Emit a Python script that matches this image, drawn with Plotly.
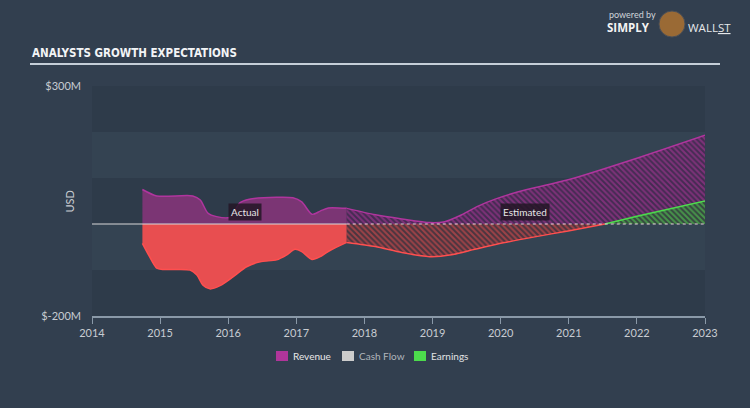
import plotly.graph_objects as go

# ---------------- data (USD millions, fractional years) ----------------
rev_act_x = [2014.74, 2014.95, 2015.48, 2015.59, 2015.70, 2015.83, 2016.03, 2016.17,
             2016.31, 2016.71, 2016.95, 2017.08, 2017.23, 2017.35, 2017.47, 2017.74]
rev_act_y = [75, 61, 61, 52, 24, 16, 15, 46, 54, 58, 57, 48, 21, 28, 35, 34]

rev_est_x = [2017.74, 2018.16, 2018.55, 2018.96, 2019.18, 2019.43, 2019.67, 2019.92,
             2020.26, 2020.99, 2022.0, 2023.0]
rev_est_y = [34, 20, 11, 3, 5, 20, 39, 54, 70, 96, 143, 193]

earn_act_x = [2014.74, 2014.83, 2014.95, 2015.05, 2015.44, 2015.54, 2015.63, 2015.73,
              2015.88, 2016.07, 2016.27, 2016.47, 2016.71, 2016.86, 2016.98, 2017.08,
              2017.23, 2017.35, 2017.50, 2017.74]
earn_act_y = [-42, -67, -96, -99, -100, -111, -133, -141, -134, -115, -93, -82,
              -78, -67, -55, -60, -77, -71, -57, -40]

earn_est_x = [2017.74, 2018.16, 2018.55, 2018.96, 2019.28, 2019.62, 2019.97, 2020.50,
              2020.99, 2021.53, 2022.0, 2023.0]
earn_est_y = [-40, -49, -62, -71, -67, -55, -43, -28, -15, 0, 17, 50]

year_ticks = list(range(2014, 2024))
y_tick_vals = [-200, 300]
y_tick_text = ["$-200M", "$300M"]
legend_names = ["Revenue", "Cash Flow", "Earnings"]
legend_colors = ["#b0359a", "#cccccc", "#4cdb4c"]
split_year = 2017.74

# ---------------- styling ----------------
PAPER = "#323f4f"
DARK_BAND = "#2e3b4a"
LIGHT_BAND = "#344352"
REV_LINE = "#b0359e"
REV_FILL = "#7b3574"
EARN_NEG_LINE = "#ff4f4f"
EARN_NEG_FILL = "#e84e50"
EARN_POS_LINE = "#4cdb4c"
TXT = "#c8ccd2"
FONT = "Lato"

L, R, T, B = 92, 45, 86, 92
W, H = 750, 408
PW, PH = W - L - R, H - T - B


def px(x):
    return (x - L) / PW


def py(y):
    return (H - B - y) / PH


fig = go.Figure()

# actual revenue
fig.add_trace(go.Scatter(x=rev_act_x, y=rev_act_y, mode="lines", fill="tozeroy",
                         fillcolor=REV_FILL, line=dict(color=REV_LINE, width=1.5, shape="spline", smoothing=0.7),
                         showlegend=False, hoverinfo="skip"))
# actual earnings
fig.add_trace(go.Scatter(x=earn_act_x, y=earn_act_y, mode="lines", fill="tozeroy",
                         fillcolor=EARN_NEG_FILL, line=dict(color=EARN_NEG_LINE, width=1.5, shape="spline", smoothing=0.7),
                         showlegend=False, hoverinfo="skip"))
# estimated revenue (hatched)
fig.add_trace(go.Scatter(x=rev_est_x, y=rev_est_y, mode="lines", fill="tozeroy",
                         fillcolor="rgba(72,40,84,0.85)",
                         fillpattern=dict(shape="\\", fgcolor="#b8389f", bgcolor="rgba(72,40,84,0.85)",
                                          size=4, solidity=0.5),
                         line=dict(color=REV_LINE, width=1.5, shape="spline", smoothing=0.7),
                         showlegend=False, hoverinfo="skip"))
# estimated earnings split by sign
neg_x = [x for x, y in zip(earn_est_x, earn_est_y) if y <= 0]
neg_y = [y for y in earn_est_y if y <= 0]
pos_x = [x for x, y in zip(earn_est_x, earn_est_y) if y >= 0]
pos_y = [y for y in earn_est_y if y >= 0]
fig.add_trace(go.Scatter(x=neg_x, y=neg_y, mode="lines", fill="tozeroy",
                         fillcolor="rgba(78,50,60,0.85)",
                         fillpattern=dict(shape="\\", fgcolor="#f05050", bgcolor="rgba(78,50,60,0.85)",
                                          size=4, solidity=0.5),
                         line=dict(color=EARN_NEG_LINE, width=1.5, shape="spline", smoothing=0.7),
                         showlegend=False, hoverinfo="skip"))
fig.add_trace(go.Scatter(x=pos_x, y=pos_y, mode="lines", fill="tozeroy",
                         fillcolor="rgba(50,75,60,0.85)",
                         fillpattern=dict(shape="\\", fgcolor="#50e050", bgcolor="rgba(50,75,60,0.85)",
                                          size=4, solidity=0.5),
                         line=dict(color=EARN_POS_LINE, width=1.5),
                         showlegend=False, hoverinfo="skip"))

shapes = []
# background bands
for lo, hi, col in [(200, 300, DARK_BAND), (100, 200, LIGHT_BAND), (0, 100, DARK_BAND),
                    (-100, 0, LIGHT_BAND), (-200, -100, DARK_BAND)]:
    shapes.append(dict(type="rect", xref="paper", yref="y", x0=0, x1=1, y0=lo, y1=hi,
                       fillcolor=col, line=dict(width=0), layer="below"))
# zero lines
shapes.append(dict(type="line", xref="x", yref="y", x0=2014, x1=split_year, y0=0, y1=0,
                   line=dict(color="#d8d8d8", width=1.2), layer="above"))
shapes.append(dict(type="line", xref="x", yref="y", x0=split_year, x1=2023, y0=0, y1=0,
                   line=dict(color="#e8d4dc", width=1.2, dash="dot"), layer="above"))
# title underline
shapes.append(dict(type="line", xref="paper", yref="paper", x0=px(30), x1=px(720), y0=py(64), y1=py(64),
                   line=dict(color="#c5ced8", width=2)))
# logo circle
shapes.append(dict(type="circle", xref="paper", yref="paper", x0=px(659), x1=px(685), y0=py(37), y1=py(11),
                   fillcolor="#9a6a35", line=dict(color="#4a4f58", width=1)))
# legend squares
leg_sq_x = [276, 342, 414]
for i, c in enumerate(legend_colors):
    shapes.append(dict(type="rect", xref="paper", yref="paper", x0=px(leg_sq_x[i]), x1=px(leg_sq_x[i] + 12),
                       y0=py(361), y1=py(351), fillcolor=c, line=dict(width=0)))

annotations = [
    dict(text="ANALYSTS GROWTH EXPECTATIONS", x=px(30), y=py(53), xref="paper", yref="paper",
         xanchor="left", yanchor="middle", showarrow=False,
         font=dict(family="DejaVu Sans Condensed, Roboto, sans-serif", size=11.5, color="#f2f4f6", weight="bold")),
    dict(text="USD", x=px(60), y=py(202), xref="paper", yref="paper", textangle=-90,
         showarrow=False, font=dict(family=FONT, size=11, color=TXT)),
    dict(text="Actual", x=2016.25, y=26, xref="x", yref="y", showarrow=False,
         bgcolor="rgba(35,22,38,0.85)", borderpad=2,
         font=dict(family=FONT, size=10, color="#e6e6e6")),
    dict(text="Estimated", x=2020.36, y=26, xref="x", yref="y", showarrow=False,
         bgcolor="rgba(35,22,38,0.85)", borderpad=2,
         font=dict(family=FONT, size=10, color="#e6e6e6")),
    dict(text="powered by", x=px(607), y=py(14), xref="paper", yref="paper", xanchor="left",
         yanchor="middle", showarrow=False, font=dict(family=FONT, size=9, color="#cfd4da")),
    dict(text="<b>SIMPLY</b>", x=px(605), y=py(28), xref="paper", yref="paper", xanchor="left",
         yanchor="middle", showarrow=False, font=dict(family="Open Sans", size=11.5, color="#f4f4f4")),
    dict(text="WALL<u>ST</u>", x=px(686), y=py(28), xref="paper", yref="paper", xanchor="left",
         yanchor="middle", showarrow=False, font=dict(family="Open Sans", size=11.5, color="#e6e8ea")),
]
leg_txt_colors = ["#e8e8e8", "#b0b5bb", "#e0e2e4"]
for i, name in enumerate(legend_names):
    annotations.append(dict(text=name, x=px(leg_sq_x[i] + 15), y=py(356), xref="paper", yref="paper",
                            xanchor="left", yanchor="middle", showarrow=False,
                            font=dict(family=FONT, size=10, color=leg_txt_colors[i])))

fig.update_layout(
    width=W, height=H,
    margin=dict(l=L, r=R, t=T, b=B),
    paper_bgcolor=PAPER, plot_bgcolor=DARK_BAND,
    showlegend=False,
    shapes=shapes, annotations=annotations,
    xaxis=dict(range=[2014, 2023], tickvals=year_ticks, ticktext=[str(y) for y in year_ticks],
               showgrid=False, zeroline=False, showline=True, linecolor="#8a99a8", linewidth=1.5,
               ticks="outside", ticklen=6, tickcolor="#8a99a8", tickwidth=1,
               tickfont=dict(family=FONT, size=11, color=TXT), fixedrange=True),
    yaxis=dict(range=[-200, 300], tickvals=y_tick_vals, ticktext=y_tick_text,
               showgrid=False, zeroline=False, showline=False, ticks="",
               tickfont=dict(family=FONT, size=11, color=TXT), ticklabelstandoff=10, fixedrange=True),
)

fig.write_html("out.html")
